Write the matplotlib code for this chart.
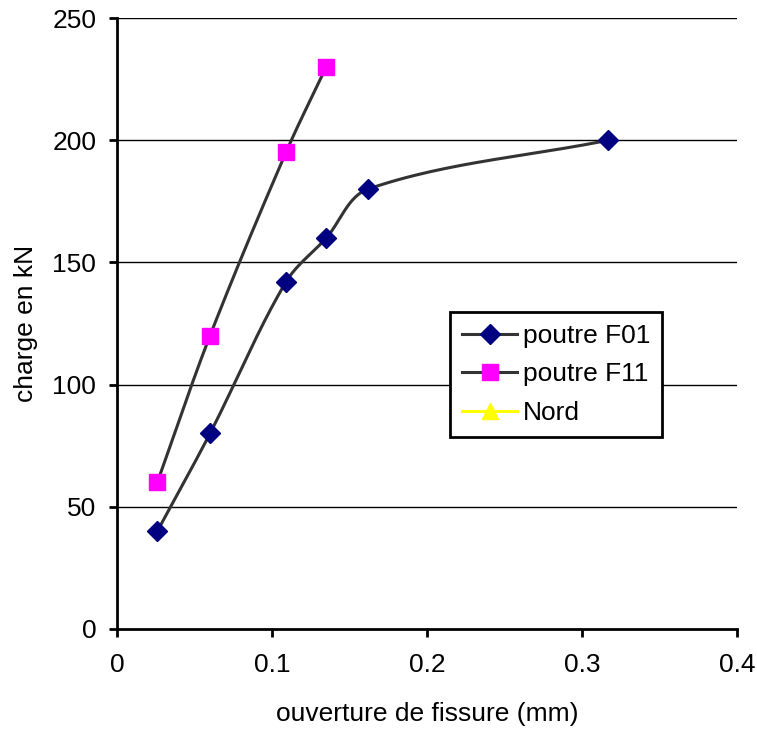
import numpy as np
import matplotlib
matplotlib.use("Agg")
import matplotlib.pyplot as plt
from matplotlib.lines import Line2D

plt.rcParams['font.family'] = ['Liberation Sans', 'DejaVu Sans']

# Data
f01_x = [0.026, 0.060, 0.109, 0.135, 0.162, 0.317]
f01_y = [40, 80, 142, 160, 180, 200]
f11_x = [0.026, 0.060, 0.109, 0.135]
f11_y = [60, 120, 195, 230]
series_names = ["poutre F01", "poutre F11", "Nord"]
x_ticks = [0, 0.1, 0.2, 0.3, 0.4]
x_tick_labels = ["0", "0.1", "0.2", "0.3", "0.4"]
y_ticks = [0, 50, 100, 150, 200, 250]

FS = 19

fig = plt.figure(figsize=(7.57, 7.29), dpi=100)
ax = fig.add_axes([117/757, 1-629/729, 620/757, 611/729])
ax.set_xlim(0, 0.4)
ax.set_ylim(0, 250)


def smooth(xs, ys, ax, n=50, k=1/3.0):
    # Excel-like smoothing: Bezier with chord-scaled tangents, in pixel space
    tr = ax.transData
    pts = tr.transform(np.column_stack([xs, ys]))
    P = np.vstack([pts[0], pts, pts[-1]])
    out = []
    for i in range(1, len(P) - 2):
        p0, p1, p2, p3 = P[i-1], P[i], P[i+1], P[i+2]
        L = np.linalg.norm(p2 - p1)
        d1 = p2 - p0
        d2 = p3 - p1
        d1 = d1 / (np.linalg.norm(d1) or 1)
        d2 = d2 / (np.linalg.norm(d2) or 1)
        c1 = p1 + d1 * L * k
        c2 = p2 - d2 * L * k
        t = np.linspace(0, 1, n)[:, None]
        b = ((1-t)**3)*p1 + 3*((1-t)**2)*t*c1 + 3*(1-t)*t**2*c2 + t**3*p2
        out.append(b if i == 1 else b[1:])
    out = np.vstack(out)
    d = tr.inverted().transform(out)
    return d[:, 0], d[:, 1]


for y in y_ticks[1:]:
    ax.axhline(y, color='black', lw=1.0, zorder=1)

sx, sy = smooth(f01_x, f01_y, ax)
ax.plot(sx, sy, color='#333333', lw=2.2, zorder=2)
ax.plot(f01_x, f01_y, ls='none', marker='D', ms=10, color='#000080', zorder=3)

sx, sy = smooth(f11_x, f11_y, ax)
ax.plot(sx, sy, color='#333333', lw=2.2, zorder=2)
ax.plot(f11_x, f11_y, ls='none', marker='s', ms=11, color='#FF00FF', zorder=3)

for s in ['top', 'right']:
    ax.spines[s].set_visible(False)
for s in ['left', 'bottom']:
    ax.spines[s].set_linewidth(2)
ax.set_xticks(x_ticks)
ax.set_xticklabels(x_tick_labels)
ax.set_yticks(y_ticks)
ax.tick_params(direction='out', length=6, width=2, labelsize=FS)
ax.tick_params(axis='x', pad=11)
ax.tick_params(axis='y', pad=9)
ax.set_xlabel("ouverture de fissure (mm)", fontsize=FS, labelpad=18)
ax.set_ylabel("charge en kN", fontsize=FS, labelpad=10)

handles = [
    Line2D([], [], color='#333333', lw=2.2, marker='D', ms=10, mfc='#000080', mec='#000080'),
    Line2D([], [], color='#333333', lw=2.2, marker='s', ms=11, mfc='#FF00FF', mec='#FF00FF'),
    Line2D([], [], color='#FFFF00', lw=2.2, marker='^', ms=12, mfc='#FFFF00', mec='#FFFF00'),
]
leg = ax.legend(handles, series_names, loc='upper left',
                bbox_to_anchor=(450/757, 1-312/729), bbox_transform=fig.transFigure,
                fontsize=FS, frameon=True, fancybox=False, framealpha=1,
                edgecolor='black', handlelength=2.1, handletextpad=0.2,
                labelspacing=0.55, borderpad=0.45, borderaxespad=0)
leg.get_frame().set_linewidth(2)

fig.savefig("out.png", dpi=100)
